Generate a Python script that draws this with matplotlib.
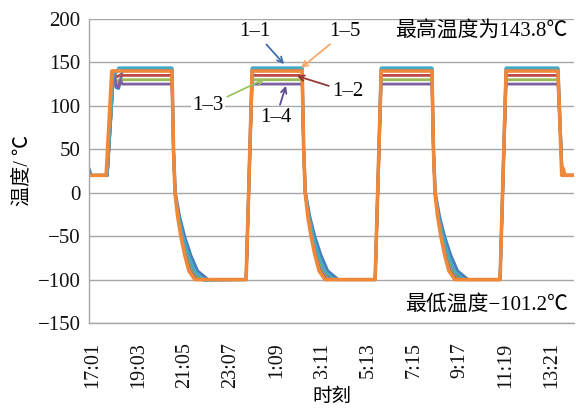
import matplotlib
matplotlib.use("Agg")
import matplotlib.pyplot as plt

plt.rcParams['font.family'] = ['Liberation Serif', 'Noto Sans CJK SC']
plt.rcParams['axes.unicode_minus'] = True

# time in minutes after 17:01
tick_pos = [0, 122, 244, 366, 488, 610, 732, 854, 976, 1098, 1220]
tick_labels = ['17:01', '19:03', '21:05', '23:07', '1:09', '3:11',
               '5:13', '7:15', '9:17', '11:19', '13:21']

t_11 = [-10, -5, 38, 55, 62, 68, 74, 78,
        210, 214, 219, 230, 244, 260, 278, 306, 407, 423,
        556, 560, 565, 576, 590, 606, 624, 652, 750, 766,
        901, 905, 910, 921, 935, 951, 969, 997, 1082, 1098,
        1236, 1247, 1279]
T_11 = [27, 20, 20, 140, 121, 120, 130, 143,
        143, 50, 0, -27, -51, -72, -90, -100, -100, 143,
        143, 50, 0, -27, -51, -72, -90, -100, -100, 143,
        143, 50, 0, -27, -51, -72, -90, -100, -100, 143,
        143, 20, 20]

t_12 = [-10, 38, 55, 62, 70,
        210, 214, 218, 227, 238, 250, 265, 285, 407, 423,
        556, 560, 564, 573, 584, 596, 611, 631, 750, 766,
        901, 905, 909, 918, 929, 941, 956, 976, 1082, 1098,
        1236, 1247, 1279]
T_12 = [20, 20, 140, 133, 135,
        135, 50, 0, -27, -51, -72, -90, -100, -100, 135,
        135, 50, 0, -27, -51, -72, -90, -100, -100, 135,
        135, 50, 0, -27, -51, -72, -90, -100, -100, 135,
        135, 20, 20]

t_13 = [-10, 38, 55, 62, 70,
        210, 214, 218, 226, 236, 248, 261, 280, 407, 423,
        556, 560, 564, 572, 582, 594, 607, 626, 750, 766,
        901, 905, 909, 917, 927, 939, 952, 971, 1082, 1098,
        1236, 1247, 1279]
T_13 = [20, 20, 140, 127, 130,
        130, 50, 0, -27, -51, -72, -90, -100, -100, 130,
        130, 50, 0, -27, -51, -72, -90, -100, -100, 130,
        130, 50, 0, -27, -51, -72, -90, -100, -100, 130,
        130, 20, 20]

t_14 = [-10, 38, 55, 62, 68, 73, 78,
        210, 214, 218, 226, 235, 246, 258, 276, 407, 423,
        556, 560, 564, 572, 581, 592, 604, 622, 750, 766,
        901, 905, 909, 917, 926, 937, 949, 967, 1082, 1098,
        1236, 1247, 1279]
T_14 = [20, 20, 140, 123, 122, 130, 125,
        125, 50, 0, -27, -51, -72, -90, -100, -100, 125,
        125, 50, 0, -27, -51, -72, -90, -100, -100, 125,
        125, 50, 0, -27, -51, -72, -90, -100, -100, 125,
        125, 20, 20]

t_16 = [-10, 38, 55, 62, 68,
        210, 214, 218, 228, 240, 254, 270, 295, 407, 423,
        556, 560, 564, 574, 586, 600, 616, 641, 750, 766,
        901, 905, 909, 919, 931, 945, 961, 986, 1082, 1098,
        1236, 1247, 1279]
T_16 = [20, 20, 140, 138, 143.8,
        143.8, 50, 0, -27, -51, -72, -90, -101.2, -100, 143.8,
        143.8, 50, 0, -27, -51, -72, -90, -100, -100, 143.8,
        143.8, 50, 0, -27, -51, -72, -90, -100, -100, 143.8,
        143.8, 20, 20]

t_15 = [-10, 35, 50,
        210, 214, 218, 225, 234, 244, 255, 271, 407, 423,
        556, 560, 564, 571, 580, 590, 601, 617, 750, 766,
        901, 905, 909, 916, 925, 935, 946, 962, 1082, 1098,
        1236, 1246, 1250, 1254, 1279]
T_15 = [20, 20, 140,
        140, 50, 0, -27, -51, -72, -90, -100, -100, 140,
        140, 50, 0, -27, -51, -72, -90, -100, -100, 140,
        140, 50, 0, -27, -51, -72, -90, -100, -100, 140,
        140, 20, 28, 20, 20]

series = [
    (t_11, T_11, '#4A7EBB', 2.2),
    (t_12, T_12, '#BE4B48', 2.0),
    (t_13, T_13, '#98B954', 2.0),
    (t_14, T_14, '#7D60A0', 2.0),
    (t_16, T_16, '#46AAC5', 2.0),
    (t_15, T_15, '#F0883A', 2.6),
]

fig = plt.figure(figsize=(5.76, 4.11), dpi=100)
ax = fig.add_axes([0.1545, 0.214, 0.842, 0.740])

for t, T, c, lw in series:
    ax.plot(t, T, color=c, lw=lw, solid_joinstyle='round')

ax.set_xlim(-10.6, 1278.5)
ax.set_ylim(-150, 200)
ax.set_yticks(range(-150, 201, 50))
ax.set_xticks(tick_pos)
ax.set_xticklabels(tick_labels, rotation=90)
ax.tick_params(axis='both', length=0, colors='#111111')
ax.tick_params(axis='y', pad=6, labelsize=15)
ax.tick_params(axis='x', pad=14, labelsize=14.5)
ax.yaxis.grid(True, color='#A6A6A6', lw=1.0)
ax.set_axisbelow(True)
for s in ['top', 'right']:
    ax.spines[s].set_visible(False)
for s in ['left', 'bottom']:
    ax.spines[s].set_color('#A6A6A6')
    ax.spines[s].set_linewidth(1.0)

ax.set_ylabel('温度/ ℃', fontsize=14.5, labelpad=4)
ax.set_xlabel('时刻', fontsize=14, labelpad=0)

bb = dict(boxstyle='square,pad=0.05', fc='white', ec='none')
ann = [
    ('1–1', (508, 148), (431, 185), '#3D6FA8'),
    ('1–5', (553, 143.6), (670, 185), '#F9A868'),
    ('1–2', (542, 134.4), (678, 116), '#953735'),
    ('1–3', (457, 131), (306, 100), '#9BC35F'),
    ('1–4', (513, 123), (486, 86), '#604A8B'),
]
for txt, xy, xyt, c in ann:
    ax.annotate(txt, xy=xy, xytext=xyt, fontsize=15, ha='center', va='center',
                bbox=bb,
                arrowprops=dict(arrowstyle='->', color=c, lw=1.3,
                                shrinkA=2, shrinkB=0, mutation_scale=10))

ax.text(1262, 185, '最高温度为143.8℃', fontsize=15, ha='right', va='center')
ax.text(1262, -129, '最低温度−101.2℃', fontsize=15, ha='right', va='center')

fig.savefig('out.png', dpi=100)
